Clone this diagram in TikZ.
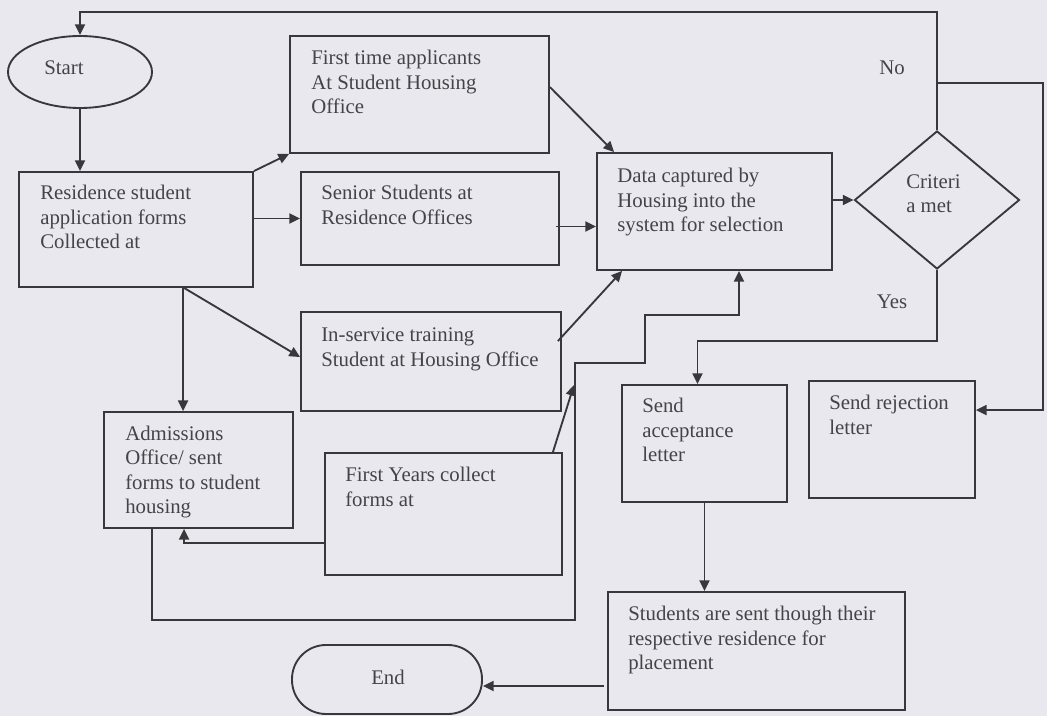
\documentclass[tikz,border=0pt]{standalone}
\usepackage{fontspec}
\setmainfont{Liberation Serif}
\usetikzlibrary{arrows.meta,shapes.geometric,calc,fit}
\definecolor{paper}{RGB}{233,232,238}
\definecolor{ink}{RGB}{55,55,60}
\definecolor{txtc}{RGB}{68,68,72}
\begin{document}
\begin{tikzpicture}[x=0.75pt,y=-0.75pt,
  box/.style={draw=ink,line width=1.4pt,rectangle,inner sep=0pt},
  lbl/.style={text=txtc,font=\fontsize{15.6pt}{18.4pt}\selectfont,inner sep=0pt,anchor=base west,align=left},
  tag/.style={text=txtc,font=\fontsize{15.6pt}{18.4pt}\selectfont,inner sep=0pt,anchor=center},
  arr/.style={draw=ink,line width=1.4pt,-{Triangle[length=8pt,width=7.5pt]}}]

% page
\fill[paper] (0,0) rectangle (1047,716);
\useasboundingbox (0,0) rectangle (1047,716);

% terminals
\node[draw=ink,line width=1.4pt,ellipse,minimum width=108pt,minimum height=54pt,inner sep=0pt] (start) at (80,72) {};
\node[tag] (tstart) at (64,68) {Start};
\node[box,rounded corners=25.5pt,fit={(292,645) (482,714)}] (end) {};
\node[tag] (tend) at (388,677) {End};

% process boxes
\node[box,fit={(19,172) (253,287)}] (res) {};
\node[box,fit={(290,36) (549,153)}] (fta) {};
\node[box,fit={(301,172) (559,265)}] (sen) {};
\node[box,fit={(301,312) (561,411)}] (ins) {};
\node[box,fit={(104,412) (293,528)}] (adm) {};
\node[box,fit={(325,453) (562,575)}] (fy) {};
\node[box,fit={(597,153) (832,270)}] (data) {};
\node[box,fit={(622,385) (787,502)}] (acc) {};
\node[box,fit={(809,381) (975,498)}] (rej) {};
\node[box,fit={(608,592) (905,710)}] (stu) {};

% decision
\node[draw=ink,line width=1.4pt,diamond,minimum width=123.75pt,minimum height=103.5pt,inner sep=0pt] (crit) at (937,200) {};

% box texts (placed by the baseline of their last line)
\node[lbl] (tres)  at (40,249)    {Residence student\\application forms\\Collected at};
\node[lbl] (tfta)  at (311,114)   {First time applicants\\At Student Housing\\Office};
\node[lbl] (tsen)  at (321,224.5) {Senior Students at\\Residence Offices};
\node[lbl] (tdata) at (617,232)   {Data captured by\\Housing into the\\system for selection};
\node[lbl] (tcrit) at (906,213)   {Criteri\\a met};
\node[lbl] (tins)  at (321,366.5) {In-service training\\Student at Housing Office};
\node[lbl] (tadm)  at (125,514)   {Admissions\\Office/ sent\\forms to student\\housing};
\node[lbl] (tfy)   at (345,506.5) {First Years collect\\forms at};
\node[lbl] (tacc)  at (642,462)   {Send\\acceptance\\letter};
\node[lbl] (trej)  at (829,434.5) {Send rejection\\letter};
\node[lbl] (tstu)  at (628,670)   {Students are sent though their\\respective residence for\\placement};

% branch labels
\node[tag] (tno)  at (892,68)  {No};
\node[tag] (tyes) at (892,302) {Yes};

% turning points
\coordinate (nocorner) at (1043,83);
\coordinate (r1) at (575,620);
\coordinate (r2) at (645,363);
\coordinate (r3) at (739,315);
\coordinate (fyhit) at (574,385);
\coordinate (sd) at ($(sen.east)+(-4,8)$);
\coordinate (se) at ($(stu.west)+(-3,35)$);

% connectors
\draw[arr] (start.south) -- (start.south |- res.north);
\draw[arr] (res.north east) -- (fta.south west);
\draw[arr] (res.east |- sen.west) -- (sen.west);
\draw[arr] ($(res.south west)+(166,0)$) -- ($(ins.north west)+(0,46)$);
\draw[arr] ($(res.south west)+(165,0)$) -- ($(adm.north west)+(80,0)$);
\draw[arr] ($(fta.north east)+(0,52)$) -- ($(data.north west)+(18,0)$);
\draw[arr] (sd) -- (sd -| data.west);
\draw[arr] ($(ins.north east)+(-4,30)$) -- ($(data.south west)+(26,0)$);
\draw[arr] ($(fy.south west)+(0,-33)$) -| ($(adm.south west)+(81,0)$);
\draw[arr] ($(adm.south west)+(49,0)$) |- (r1) |- (r2) |- (r3) -- (r3 |- data.south);
\draw[arr] ($(fy.north east)+(-10,0)$) -- (fyhit);
\draw[arr] (data.east |- crit.west) -- (crit.west);
\draw[arr] (crit.north) |- ($(start.north)+(0,-23)$) -- (start.north);
\draw[arr] (crit.north |- nocorner) -- (nocorner) |- ($(rej.north east)+(0,30)$);
\draw[arr] (crit.south) -- ++(0,71) -| ($(acc.north)+(-7,0)$);
\draw[arr] (acc.south) -- (acc.south |- stu.north);
\draw[arr] (se) -- (se -| end.east);
\end{tikzpicture}
\end{document}
